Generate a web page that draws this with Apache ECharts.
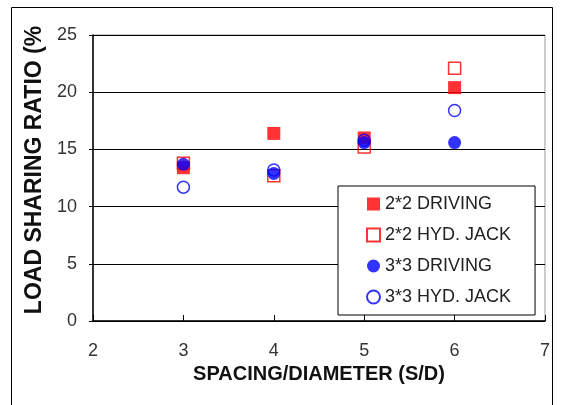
<!DOCTYPE html>
<html>
<head>
<meta charset="utf-8">
<script src="https://cdn.jsdelivr.net/npm/echarts@6/dist/echarts.min.js"></script>
<style>
  html, body { margin: 0; padding: 0; background: #fff; }
  #chart { width: 561px; height: 405px; }
</style>
</head>
<body>
<div id="chart"></div>
<script>
// spacing / diameter ratio
const spacing = [3, 4, 5, 6]
// load sharing ratio (%)
const driving22 = [13.4, 16.4, 16.0, 20.4]
const hydJack22 = [13.8, 12.7, 15.2, 22.1]
const driving33 = [13.7, 12.9, 15.6, 15.6]
const hydJack33 = [11.7, 13.2, 15.8, 18.4]

const pairs = (ys) => spacing.map((x, i) => [x, ys[i]])

const font = 'Liberation Sans, Arial, sans-serif'
const chart = echarts.init(document.getElementById('chart'))

const option = {
  animation: false,
  textStyle: { fontFamily: font },
  graphic: [
    {
      type: 'rect',
      shape: { x: 11.5, y: 7.5, width: 541, height: 420 },
      style: { fill: 'none', stroke: '#000', lineWidth: 1 },
      silent: true
    }
  ],
  grid: {
    left: 93,
    right: 16,
    top: 35,
    bottom: 84,
    show: true,
    borderColor: '#999',
    borderWidth: 1
  },
  legend: {
    orient: 'vertical',
    left: 338,
    top: 186,
    padding: [9, 24, 9, 28],
    itemGap: 13,
    itemWidth: 13,
    itemHeight: 13,
    borderColor: '#000',
    borderWidth: 1,
    backgroundColor: '#fff',
    textStyle: { fontSize: 18, color: '#222', fontFamily: font },
    data: ['2*2 DRIVING', '2*2 HYD. JACK', '3*3 DRIVING', '3*3 HYD. JACK']
  },
  xAxis: {
    type: 'value',
    min: 2,
    max: 7,
    interval: 1,
    name: 'SPACING/DIAMETER (S/D)',
    nameLocation: 'middle',
    nameGap: 40,
    nameTextStyle: { fontSize: 20, fontWeight: 'bold', color: '#111' },
    axisLine: { lineStyle: { color: '#000', width: 1.5 } },
    axisTick: { inside: true, length: 6, lineStyle: { color: '#000' } },
    axisLabel: { fontSize: 18, color: '#333', margin: 21 },
    splitLine: { show: false }
  },
  yAxis: {
    type: 'value',
    min: 0,
    max: 25,
    interval: 5,
    name: 'LOAD SHARING RATIO (%',
    nameLocation: 'middle',
    nameGap: 41,
    nameTextStyle: { fontSize: 23, fontWeight: 'bold', color: '#111', padding: [0, 0, 0, 16] },
    axisLine: { show: true, lineStyle: { color: '#000', width: 1.5 } },
    axisTick: { show: true, length: 4, lineStyle: { color: '#000' } },
    axisLabel: { fontSize: 18, color: '#333', margin: 16 },
    splitLine: { lineStyle: { color: '#000', width: 1 } }
  },
  series: [
    {
      name: '2*2 DRIVING',
      type: 'scatter',
      symbol: 'rect',
      symbolSize: 13,
      itemStyle: { color: '#ff0000' },
      data: pairs(driving22)
    },
    {
      name: '2*2 HYD. JACK',
      type: 'scatter',
      symbol: 'rect',
      symbolSize: 12,
      itemStyle: { color: 'rgba(0,0,0,0)', borderColor: '#ff0000', borderWidth: 1.5 },
      data: pairs(hydJack22)
    },
    {
      name: '3*3 DRIVING',
      type: 'scatter',
      symbol: 'circle',
      symbolSize: 13,
      itemStyle: { color: '#0000ff' },
      data: pairs(driving33)
    },
    {
      name: '3*3 HYD. JACK',
      type: 'scatter',
      symbol: 'circle',
      symbolSize: 12,
      itemStyle: { color: 'rgba(0,0,0,0)', borderColor: '#0000ff', borderWidth: 1.5 },
      data: pairs(hydJack33)
    }
  ]
}

chart.setOption(option)
</script>
</body>
</html>
